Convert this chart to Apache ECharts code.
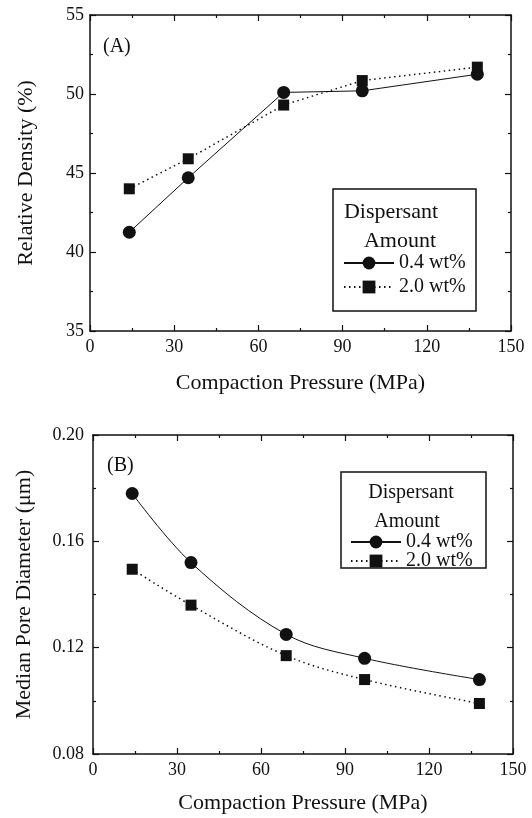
<!DOCTYPE html>
<html>
<head>
<meta charset="utf-8">
<script src="https://cdn.jsdelivr.net/npm/echarts@6/dist/echarts.min.js"></script>
<style>
  html, body { margin: 0; padding: 0; background: #fff; }
  #chart { width: 532px; height: 818px; }
</style>
</head>
<body>
<div id="chart"></div>
<script>
// compaction pressure (MPa)
const pressure = [14, 35, 69, 97, 138]
const seriesNames = ['0.4 wt%', '2.0 wt%']
// (A) relative density (%)
const density04 = [41.25, 44.7, 50.1, 50.2, 51.25]
const density20 = [44.0, 45.9, 49.3, 50.85, 51.7]
// (B) median pore diameter (um)
const pore04 = [0.178, 0.152, 0.125, 0.116, 0.108]
const pore20 = [0.1495, 0.136, 0.117, 0.108, 0.099]

const font = '"Liberation Serif", "DejaVu Serif", serif'
const black = '#111'

const chart = echarts.init(document.getElementById('chart'))

function pairs (ys) {
  return ys.map((y, i) => [pressure[i], y])
}

// main axis with labels, or mirrored axis (ticks only)
function xAxisOf (grid, mirror, gap) {
  return {
    type: 'value',
    gridIndex: grid,
    position: mirror ? 'top' : 'bottom',
    min: 0,
    max: 150,
    interval: 30,
    name: mirror ? '' : 'Compaction Pressure (MPa)',
    nameLocation: 'middle',
    nameGap: gap,
    nameTextStyle: { color: black, fontFamily: font, fontSize: 22 },
    axisLine: { show: true, onZero: false, lineStyle: { color: black, width: 1.5 } },
    axisTick: { show: true, inside: true, length: 6, lineStyle: { color: black, width: 1.2 } },
    minorTick: { show: true, splitNumber: 2, length: 3, lineStyle: { color: black, width: 1.2 } },
    axisLabel: { show: !mirror, color: black, fontFamily: font, fontSize: 18, margin: 7 },
    splitLine: { show: false }
  }
}

function yAxisOf (grid, mirror, min, max, step, title, gap, digits, margin) {
  return {
    type: 'value',
    gridIndex: grid,
    position: mirror ? 'right' : 'left',
    min: min,
    max: max,
    interval: step,
    name: mirror ? '' : title,
    nameLocation: 'middle',
    nameGap: gap,
    nameTextStyle: { color: black, fontFamily: font, fontSize: 22 },
    axisLine: { show: true, onZero: false, lineStyle: { color: black, width: 1.5 } },
    axisTick: { show: true, inside: true, length: 6, lineStyle: { color: black, width: 1.2 } },
    minorTick: { show: true, splitNumber: 2, length: 3, lineStyle: { color: black, width: 1.2 } },
    axisLabel: {
      show: !mirror, color: black, fontFamily: font, fontSize: 18, margin: margin,
      formatter: v => v.toFixed(digits)
    },
    splitLine: { show: false }
  }
}

function lineSeries (name, x, y, data, smooth) {
  const solid = name === seriesNames[0]
  return {
    name: name,
    type: 'line',
    xAxisIndex: x,
    yAxisIndex: y,
    data: data,
    smooth: smooth,
    symbol: solid ? 'circle' : 'rect',
    symbolSize: solid ? 13 : 11,
    itemStyle: { color: black },
    lineStyle: { color: black, width: solid ? 1 : 1.5, type: solid ? 'solid' : [1.5, 3.5] },
    animation: false
  }
}

function legendOf (left, top, gap) {
  return {
    data: seriesNames,
    left: left,
    top: top,
    orient: 'vertical',
    itemWidth: 50,
    itemHeight: 16,
    itemGap: gap,
    selectedMode: false,
    textStyle: { color: black, fontFamily: font, fontSize: 20, lineHeight: 16 }
  }
}

function legendBox (x, y, w, h, titleY, gapY, tx1, tx2, size) {
  return [
    { type: 'rect', shape: { x: x, y: y, width: w, height: h }, style: { fill: 'none', stroke: black, lineWidth: 1.5 } },
    { type: 'text', x: tx1, y: titleY, style: { text: 'Dispersant', fill: black, font: size + 'px ' + font, textAlign: 'center', textVerticalAlign: 'middle' } },
    { type: 'text', x: tx2, y: titleY + gapY, style: { text: 'Amount', fill: black, font: size + 'px ' + font, textAlign: 'center', textVerticalAlign: 'middle' } }
  ]
}

const option = {
  backgroundColor: '#fff',
  animation: false,
  grid: [
    { left: 90, top: 15, width: 421, height: 316 },
    { left: 93, top: 435, width: 420, height: 319 }
  ],
  xAxis: [
    xAxisOf(0, false, 41),
    xAxisOf(0, true, 0),
    xAxisOf(1, false, 38),
    xAxisOf(1, true, 0)
  ],
  yAxis: [
    yAxisOf(0, false, 35, 55, 5, 'Relative Density (%)', 53, 0, 6),
    yAxisOf(0, true, 35, 55, 5, '', 0, 0, 6),
    yAxisOf(1, false, 0.08, 0.20, 0.04, 'Median Pore Diameter (μm)', 58, 2, 9),
    yAxisOf(1, true, 0.08, 0.20, 0.04, '', 0, 2, 9)
  ],
  legend: [
    legendOf(338, 248, 4),
    legendOf(345, 527, -1)
  ],
  graphic: [
    ...legendBox(333, 189, 143, 122, 212, 29, 391, 400, 22),
    ...legendBox(341, 472, 145, 96, 493, 29, 411, 407, 20),
    { type: 'text', x: 103, y: 47, style: { text: '(A)', fill: black, font: '20px ' + font, textVerticalAlign: 'middle' } },
    { type: 'text', x: 107, y: 466, style: { text: '(B)', fill: black, font: '20px ' + font, textVerticalAlign: 'middle' } }
  ],
  series: [
    lineSeries(seriesNames[0], 0, 0, pairs(density04), false),
    lineSeries(seriesNames[1], 0, 0, pairs(density20), false),
    lineSeries(seriesNames[0], 2, 2, pairs(pore04), 0.35),
    lineSeries(seriesNames[1], 2, 2, pairs(pore20), 0.35)
  ]
}

chart.setOption(option)
</script>
</body>
</html>
